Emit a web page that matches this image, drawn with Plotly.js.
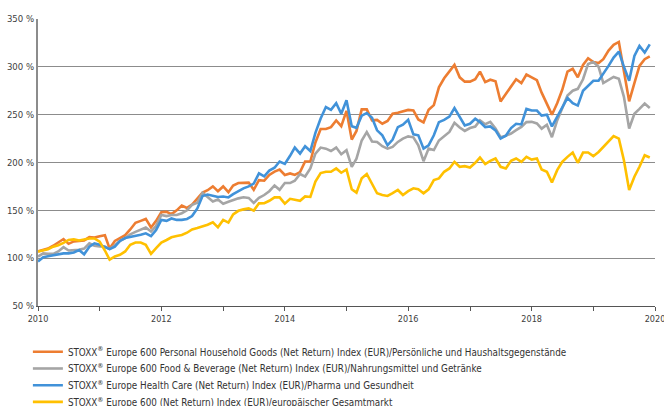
<!DOCTYPE html>
<html>
<head>
<meta charset="utf-8">
<script src="https://cdn.plot.ly/plotly-3.0.1.min.js"></script>
<style>
  html, body { margin: 0; padding: 0; background: #ffffff; }
  #chart { width: 664px; height: 406px; }
</style>
</head>
<body>
<div id="chart"></div>
<script>
// Monthly observations, Jan 2010 .. Dec 2019 (index level in %)
const startYear = 2010;
const nMonths = 120;

const seriesNames = [
  "STOXX<sup>®</sup> Europe 600 Personal Household Goods (Net Return) Index (EUR)/Persönliche und Haushaltsgegenstände",
  "STOXX<sup>®</sup> Europe 600 Food &amp; Beverage (Net Return) Index (EUR)/Nahrungsmittel und Getränke",
  "STOXX<sup>®</sup> Europe Health Care (Net Return) Index (EUR)/Pharma und Gesundheit",
  "STOXX<sup>®</sup> Europe 600 (Net Return) Index (EUR)/europäischer Gesamtmarkt"
];

const personalHousehold = [
  107, 108.5, 110, 113, 116, 120, 115, 117.5, 118, 118.5,
  122, 121.5, 123, 124, 110, 118, 121, 124, 130, 137,
  139, 141, 132, 139, 148, 148.5, 146, 150, 155, 152.5,
  156, 162, 168.5, 171, 175, 170, 175, 169, 176, 178.5,
  179, 179, 171.5, 181.5, 181, 187, 190.5, 192.7, 187, 188.6,
  187, 190, 201, 201, 221, 235, 235, 237, 244, 238,
  254, 224, 233, 255.5, 255.5, 244, 244.5, 240.5, 243.5, 251,
  252, 253.5, 255, 254.5, 245, 242, 255, 260, 278.6, 288,
  295, 302, 289, 284.5, 284.5, 287, 295, 284, 286.5, 285,
  263.8, 272, 279, 287, 283, 292, 289, 286, 273, 262,
  250, 262, 276, 295, 298, 289, 302, 309, 305, 304,
  308, 317, 323, 326, 296, 264, 283, 301, 308, 311
];

const foodBeverage = [
  101.7, 105, 104.5, 104.5, 107, 111.5, 108, 108.5, 108.7, 110,
  115.6, 113, 112.2, 112.2, 109.5, 113.5, 118, 121, 125, 127.5,
  130, 132, 127.8, 133.7, 145.2, 144, 145.2, 145.2, 147, 150,
  155.7, 158, 168.3, 163.5, 159.2, 161.3, 156.8, 159, 161, 162.5,
  163.7, 163, 157.8, 163, 166, 170, 176, 171.5, 178.5, 178.5,
  181, 188, 185.3, 193.8, 209.3, 215.6, 214.5, 212, 215.6, 208.7,
  212.8, 195.5, 204, 223, 231.8, 222, 221.5, 217, 214.5, 216.3,
  221.5, 225, 227.3, 226.3, 218, 201.4, 214.5, 213, 223, 228,
  232, 241.5, 236.5, 233, 236, 237.5, 244, 240, 242.4, 235.5,
  226.5, 228, 230.3, 233.8, 237.2, 242.2, 242.5, 240.8, 235.4, 239.5,
  226.5, 244, 257.8, 270, 275, 277, 287, 303, 305, 300,
  283, 286, 289.4, 287.5, 268.6, 235.5, 251, 256, 261.6, 257
];

const healthCare = [
  96.5, 101, 102, 103, 104, 105, 105, 106, 108.5, 104,
  112, 115.5, 114, 112, 109.5, 112, 118, 121, 122, 123,
  124.5, 126, 123, 129.5, 140, 139, 141.5, 140, 140, 141,
  144, 152, 165, 166.5, 165, 164, 164.5, 163.5, 167, 170,
  173, 175, 178, 188.6, 185.5, 191.5, 194.5, 201, 198.5, 207,
  215.6, 209.3, 217, 212, 231, 246, 258, 255, 262, 251,
  265, 238, 236.3, 249, 251.6, 246.7, 233.6, 228.4, 218, 224,
  237, 239.5, 244.6, 229.4, 228.4, 214.5, 218, 228.4, 242.2, 244.6,
  248, 257, 248, 238.8, 240.5, 245.7, 242.2, 237, 237.7, 233.6,
  225, 228, 236, 240.5, 239.8, 256, 254.3, 254.3, 249, 250,
  237.7, 247.4, 257.8, 267.5, 262, 259.5, 275, 280.3, 285.5, 285.5,
  292.4, 301, 309.7, 316, 300, 285.5, 311.4, 321.8, 314.9, 323.5
];

const europe600 = [
  107, 108, 109.3, 112, 113.5, 116, 119, 119.6, 118.5, 119.5,
  120.6, 120.6, 117.2, 108, 98.5, 101.8, 103.5, 107, 114, 116.3,
  116.3, 114, 104.5, 110.5, 116.3, 119, 121.8, 123.2, 124.2, 126.6,
  130, 131.5, 133, 135, 137.5, 132.2, 140, 137.2, 145.8, 149.5,
  151, 152, 149.7, 157.3, 157.5, 160, 163.5, 163.5, 157, 162,
  161, 160, 164.5, 164, 180, 189, 190.3, 190.3, 193.8, 189.3,
  192.7, 172, 168.5, 183.4, 188, 177.5, 167.8, 166, 165, 168,
  171.3, 166, 170, 173, 172, 167.8, 172, 181.7, 183.4, 190.3,
  193.8, 200.7, 195.5, 196.2, 194.8, 199.7, 205.2, 198.3, 201.7, 204.2,
  195.5, 193.8, 201.7, 204.2, 200.7, 205.9, 203, 204.2, 192.7, 190.3,
  179.2, 192, 200.7, 205.9, 210.4, 199.7, 210.4, 210.4, 206.6, 211,
  216.3, 221.5, 227.7, 225, 202.4, 171.3, 185.1, 195.5, 207.6, 205.2
];

const yTickVals = [50, 100, 150, 200, 250, 300, 350];
const yTickLabels = ["50 %", "100 %", "150 %", "200 %", "250 %", "300 %", "350 %"];
const xTickYears = [2010, 2011, 2012, 2013, 2014, 2015, 2016, 2017, 2018, 2019, 2020];
const xTickLabels = ["2010", " ", "2012", " ", "2014", " ", "2016", " ", "2018", " ", "2020"];

const colors = ["#ED7D31", "#A5A5A5", "#4192D9", "#FFC000"];
const legendIds = ["legend", "legend2", "legend3", "legend4"];
const legendRowY = [0.1337, 0.0924, 0.0512, 0.0101];

// monthly date axis
const dates = [];
for (let i = 0; i < nMonths; i++) {
  const y = startYear + Math.floor(i / 12);
  const m = (i % 12) + 1;
  dates.push(y + "-" + (m < 10 ? "0" + m : m) + "-01");
}

const allSeries = [personalHousehold, foodBeverage, healthCare, europe600];
const traces = allSeries.map((vals, k) => ({
  type: "scatter",
  mode: "lines",
  x: dates,
  y: vals,
  name: seriesNames[k],
  legend: legendIds[k],
  line: { color: colors[k], width: 2.6 },
  hoverinfo: "skip"
}));

const fontFam = "'Liberation Sans Narrow', 'DejaVu Sans Condensed', 'Arial Narrow', 'Roboto Condensed', sans-serif";

const layout = {
  width: 664,
  height: 406,
  margin: { l: 38, r: 9, t: 19, b: 100, autoexpand: false },
  paper_bgcolor: "#ffffff",
  plot_bgcolor: "#ffffff",
  showlegend: true,
  font: { family: fontFam, size: 10, color: "#404040" },
  xaxis: {
    type: "date",
    range: ["2010-01-01", "2020-01-01"],
    tickmode: "array",
    tickvals: xTickYears.map(y => y + "-01-01"),
    ticktext: xTickLabels,
    ticklabeloverflow: "allow",
    showgrid: false,
    zeroline: false,
    showline: true,
    linecolor: "#555555",
    linewidth: 1.3,
    ticks: "outside",
    ticklen: 4,
    tickwidth: 1,
    tickcolor: "#555555",
    tickfont: { family: fontFam, size: 9, color: "#404040" },
    automargin: false,
    fixedrange: true
  },
  yaxis: {
    range: [50, 350],
    tickmode: "array",
    tickvals: yTickVals,
    ticktext: yTickLabels,
    ticklabeloverflow: "allow",
    showgrid: true,
    gridcolor: "#8C8C8C",
    gridwidth: 1.2,
    zeroline: false,
    showline: true,
    linecolor: "#8C8C8C",
    linewidth: 2,
    ticks: "",
    tickfont: { family: fontFam, size: 9.5, color: "#404040" },
    automargin: false,
    fixedrange: true
  }
};

legendIds.forEach((id, k) => {
  layout[id] = {
    orientation: "v",
    xref: "container",
    yref: "container",
    x: 0.042,
    xanchor: "left",
    y: legendRowY[k],
    yanchor: "middle",
    bgcolor: "rgba(0,0,0,0)",
    font: { family: fontFam, size: 9.8, color: "#333333" },
    itemwidth: 30
  };
});

Plotly.newPlot("chart", traces, layout, { staticPlot: true, displayModeBar: false });
</script>
</body>
</html>
